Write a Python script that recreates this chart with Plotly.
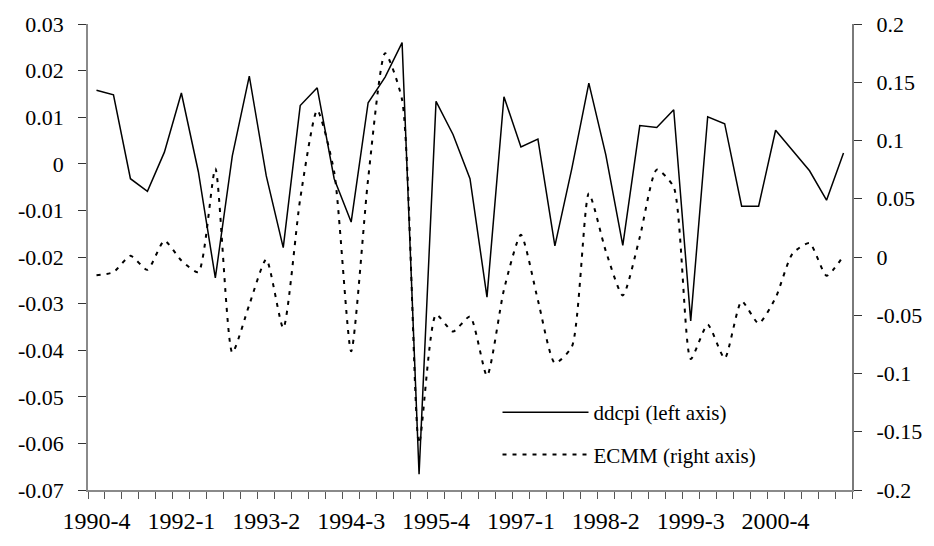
import plotly.graph_objects as go

quarters = ["1990-4", "1991-1", "1991-2", "1991-3", "1991-4",
            "1992-1", "1992-2", "1992-3", "1992-4",
            "1993-1", "1993-2", "1993-3", "1993-4",
            "1994-1", "1994-2", "1994-3", "1994-4",
            "1995-1", "1995-2", "1995-3", "1995-4",
            "1996-1", "1996-2", "1996-3", "1996-4",
            "1997-1", "1997-2", "1997-3", "1997-4",
            "1998-1", "1998-2", "1998-3", "1998-4",
            "1999-1", "1999-2", "1999-3", "1999-4",
            "2000-1", "2000-2", "2000-3", "2000-4",
            "2001-1", "2001-2", "2001-3", "2001-4"]

ddcpi = [0.0158, 0.0148, -0.0032, -0.0059, 0.0025, 0.0152, -0.0017, -0.0245, 0.0017,
         0.0188, -0.0026, -0.0180, 0.0125, 0.0163, -0.0032, -0.0125, 0.0131, 0.0186,
         0.0260, -0.0666, 0.0134, 0.0063, -0.0032, -0.0286, 0.0144, 0.0036, 0.0053,
         -0.0176, -0.0010, 0.0173, 0.0019, -0.0175, 0.0082, 0.0078, 0.0116, -0.0337,
         0.0101, 0.0086, -0.0091, -0.0091, 0.0072, 0.0029, -0.0015, -0.0078, 0.0023]

ecmm = [-0.0156, -0.013, 0.001, -0.011, 0.014, -0.003, -0.013, 0.076, -0.082,
        -0.041, -0.002, -0.061, 0.050, 0.126, 0.073, -0.081, 0.067, 0.175,
        0.135, -0.160, -0.0495, -0.064, -0.051, -0.102, -0.028, 0.019, -0.037,
        -0.091, -0.077, 0.0545, 0.005, -0.033, 0.017, 0.075, 0.060, -0.0875,
        -0.058, -0.087, -0.038, -0.057, -0.035, 0.003, 0.012, -0.016, 0.001]

x_label_idx = [0, 5, 10, 15, 20, 25, 30, 35, 40]
x_labels = [quarters[i] for i in x_label_idx]

left_ticks = [0.03, 0.02, 0.01, 0, -0.01, -0.02, -0.03, -0.04, -0.05, -0.06, -0.07]
left_text = ["0.03", "0.02", "0.01", "0", "-0.01", "-0.02", "-0.03", "-0.04", "-0.05", "-0.06", "-0.07"]
right_ticks = [0.2, 0.15, 0.1, 0.05, 0, -0.05, -0.1, -0.15, -0.2]
right_text = ["0.2", "0.15", "0.1", "0.05", "0", "-0.05", "-0.1", "-0.15", "-0.2"]

xi = list(range(len(quarters)))
FONT = "Liberation Serif, DejaVu Serif, serif"

fig = go.Figure()
fig.add_trace(go.Scatter(
    x=xi, y=ddcpi, name="ddcpi (left axis)", mode="lines",
    line=dict(color="black", width=1.5), legendgroup="a", yaxis="y",
))
fig.add_trace(go.Scatter(
    x=xi, y=ecmm, name="ECMM (right axis)", mode="lines",
    line=dict(color="black", width=2, dash="4px,6px", shape="spline", smoothing=0.6),
    legendgroup="b", yaxis="y2",
))

fig.update_layout(
    width=934, height=546,
    margin=dict(l=88, r=79, t=23, b=50),
    paper_bgcolor="white", plot_bgcolor="white",
    font=dict(family=FONT, size=20, color="black"),
    showlegend=True,
    legend=dict(
        x=0.536, y=0.21, xanchor="left", yanchor="top",
        bgcolor="rgba(0,0,0,0)", itemwidth=86, tracegroupgap=12,
        font=dict(family=FONT, size=21, color="black"),
    ),
    xaxis=dict(
        range=[-0.5, len(quarters) - 0.5],
        tickvals=x_label_idx, ticktext=x_labels,
        ticks="", showgrid=False, zeroline=False,
        showline=True, linecolor="#8a8a8a", linewidth=1.5,
        tickfont=dict(family=FONT, size=24, color="black"),
        ticklabelstandoff=8,
        minor=dict(tickvals=[i - 0.5 for i in range(len(quarters) + 1)],
                   ticks="outside", ticklen=7, tickcolor="#555555", tickwidth=1),
    ),
    yaxis=dict(
        range=[-0.07, 0.03], tickvals=left_ticks, ticktext=left_text,
        ticks="outside", ticklen=8, tickcolor="#333333", tickwidth=1,
        showgrid=False, zeroline=False,
        showline=True, linecolor="#8a8a8a", linewidth=1.5,
        tickfont=dict(family=FONT, size=22, color="black"),
        ticklabelstandoff=10,
    ),
    yaxis2=dict(
        range=[-0.2, 0.2], tickvals=right_ticks, ticktext=right_text,
        overlaying="y", side="right", anchor="x",
        ticks="outside", ticklen=8, tickcolor="#333333", tickwidth=1.2,
        showgrid=False, zeroline=False,
        showline=True, linecolor="#7a7a7a", linewidth=2,
        tickfont=dict(family=FONT, size=22, color="black"),
        ticklabelstandoff=10,
    ),
    yaxis3=dict(
        range=[-0.2, 0.2], tickvals=right_ticks,
        overlaying="y", side="right", anchor="x",
        ticks="inside", ticklen=8, tickcolor="#333333", tickwidth=1.2,
        showticklabels=False, showgrid=False, zeroline=False, showline=False,
    ),
)

fig.write_html("out.html")
